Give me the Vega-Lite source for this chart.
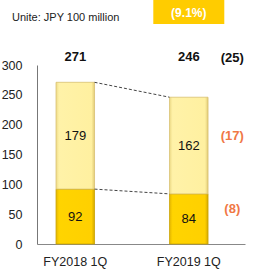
{
  "$schema": "https://vega.github.io/schema/vega-lite/v6.json",
  "width": 208,
  "height": 179,
  "autosize": "none",
  "padding": {"left": 37, "top": 65, "right": 15, "bottom": 26},
  "config": {"view": {"stroke": null}, "font": "Liberation Sans", "axis": {"labelOverlap": false, "labelBound": false}},
  "title": {
    "text": "Unite: JPY 100 million",
    "anchor": "start",
    "frame": "group",
    "dx": -25,
    "offset": -23,
    "fontSize": 11,
    "fontWeight": "normal",
    "color": "#222222",
    "font": "Liberation Sans"
  },
  "datasets": {
    "segments": [
      {"cat": "FY2018 1Q", "seg": "bottom", "order": 1, "value": 92},
      {"cat": "FY2018 1Q", "seg": "top", "order": 2, "value": 179},
      {"cat": "FY2019 1Q", "seg": "bottom", "order": 1, "value": 84, "change": "(8)"},
      {"cat": "FY2019 1Q", "seg": "top", "order": 2, "value": 162, "change": "(17)"}
    ],
    "totals": [
      {"cat": "FY2018 1Q", "total": 271},
      {"cat": "FY2019 1Q", "total": 246, "change": "(25)"}
    ],
    "connectors": [
      {"from": "FY2018 1Q", "to": "FY2019 1Q", "a": 271, "b": 246},
      {"from": "FY2018 1Q", "to": "FY2019 1Q", "a": 92, "b": 84}
    ],
    "pct": [
      {"cat": "FY2019 1Q", "label": "(9.1%)"}
    ]
  },
  "resolve": {"scale": {"x": "shared", "y": "shared"}},
  "layer": [
    {
      "data": {"name": "segments"},
      "transform": [
        {"stack": "value", "groupby": ["cat"], "sort": [{"field": "order"}], "as": ["y0", "y1"]},
        {"filter": "datum.seg == 'bottom'"}
      ],
      "mark": {
        "type": "bar",
        "stroke": "#C9A300",
        "strokeWidth": 0.8,
        "fill": {
          "gradient": "linear", "x1": 0, "x2": 1, "y1": 0, "y2": 0,
          "stops": [
            {"offset": 0, "color": "#E6B800"},
            {"offset": 0.08, "color": "#FFD400"},
            {"offset": 0.92, "color": "#FFD000"},
            {"offset": 1, "color": "#D4A900"}
          ]
        }
      },
      "encoding": {
        "x": {
          "field": "cat", "type": "nominal",
          "scale": {"domain": ["FY2018 1Q", "FY2019 1Q"], "paddingInner": 0.661, "paddingOuter": 0.2467, "align": 0.34},
          "axis": {"title": null, "labelAngle": 0, "ticks": false, "domainColor": "#888888", "labelColor": "#222222", "labelFontSize": 12.5, "labelPadding": 11, "labelFont": "Liberation Sans"}
        },
        "y": {
          "field": "y0", "type": "quantitative",
          "scale": {"domain": [0, 300], "nice": false},
          "axis": {"title": null, "values": [0, 50, 100, 150, 200, 250, 300], "tickCount": 7, "labelOverlap": false, "grid": false, "ticks": false, "domainColor": "#777777", "labelColor": "#222222", "labelFontSize": 12.5, "labelPadding": 15, "labelFont": "Liberation Sans"}
        },
        "y2": {"field": "y1"}
      }
    },
    {
      "data": {"name": "segments"},
      "transform": [
        {"stack": "value", "groupby": ["cat"], "sort": [{"field": "order"}], "as": ["y0", "y1"]},
        {"filter": "datum.seg == 'top'"}
      ],
      "mark": {
        "type": "bar",
        "stroke": "#D8C070",
        "strokeWidth": 0.8,
        "fill": {
          "gradient": "linear", "x1": 0, "x2": 1, "y1": 0, "y2": 0,
          "stops": [
            {"offset": 0, "color": "#EEDC88"},
            {"offset": 0.08, "color": "#FFF2A8"},
            {"offset": 0.92, "color": "#FFF0A0"},
            {"offset": 1, "color": "#E2CC78"}
          ]
        }
      },
      "encoding": {
        "x": {"field": "cat", "type": "nominal"},
        "y": {"field": "y0", "type": "quantitative"},
        "y2": {"field": "y1"}
      }
    },
    {
      "data": {"name": "segments"},
      "transform": [
        {"stack": "value", "groupby": ["cat"], "sort": [{"field": "order"}], "as": ["y0", "y1"]},
        {"calculate": "(datum.y0 + datum.y1) / 2", "as": "mid"}
      ],
      "mark": {"type": "text", "fontSize": 13, "color": "#111111", "font": "Liberation Sans"},
      "encoding": {
        "x": {"field": "cat", "type": "nominal"},
        "y": {"field": "mid", "type": "quantitative"},
        "text": {"field": "value"}
      }
    },
    {
      "data": {"name": "segments"},
      "transform": [
        {"stack": "value", "groupby": ["cat"], "sort": [{"field": "order"}], "as": ["y0", "y1"]},
        {"calculate": "(datum.y0 + datum.y1) / 2", "as": "mid"},
        {"filter": "isValid(datum.change)"}
      ],
      "mark": {"type": "text", "fontSize": 13, "fontWeight": "bold", "color": "#F07845", "xOffset": 43.5, "dy": -10, "font": "Liberation Sans"},
      "encoding": {
        "x": {"field": "cat", "type": "nominal"},
        "y": {"field": "mid", "type": "quantitative"},
        "text": {"field": "change"}
      }
    },
    {
      "data": {"name": "connectors"},
      "mark": {"type": "rule", "strokeDash": [3, 2], "color": "#444444", "strokeWidth": 1, "xOffset": 19.25, "x2Offset": -19.25},
      "encoding": {
        "x": {"field": "from", "type": "nominal"},
        "x2": {"field": "to"},
        "y": {"field": "a", "type": "quantitative"},
        "y2": {"field": "b"}
      }
    },
    {
      "data": {"name": "totals"},
      "mark": {"type": "text", "fontSize": 13, "fontWeight": "bold", "color": "#111111", "clip": false, "font": "Liberation Sans"},
      "encoding": {
        "x": {"field": "cat", "type": "nominal"},
        "y": {"datum": 314, "type": "quantitative"},
        "text": {"field": "total"}
      }
    },
    {
      "data": {"name": "totals"},
      "transform": [{"filter": "isValid(datum.change)"}],
      "mark": {"type": "text", "fontSize": 13, "fontWeight": "bold", "color": "#111111", "clip": false, "xOffset": 43.5, "font": "Liberation Sans"},
      "encoding": {
        "x": {"field": "cat", "type": "nominal"},
        "y": {"datum": 312, "type": "quantitative"},
        "text": {"field": "change"}
      }
    },
    {
      "data": {"name": "pct"},
      "mark": {"type": "bar", "width": 71, "color": "#FFCC00", "clip": false},
      "encoding": {
        "x": {"field": "cat", "type": "nominal"},
        "y": {"datum": 368.7, "type": "quantitative"},
        "y2": {"datum": 409}
      }
    },
    {
      "data": {"name": "pct"},
      "mark": {"type": "text", "fontSize": 12, "fontWeight": "bold", "color": "#FFFFFF", "clip": false, "font": "Liberation Sans"},
      "encoding": {
        "x": {"field": "cat", "type": "nominal"},
        "y": {"datum": 387, "type": "quantitative"},
        "text": {"field": "label"}
      }
    }
  ]
}
